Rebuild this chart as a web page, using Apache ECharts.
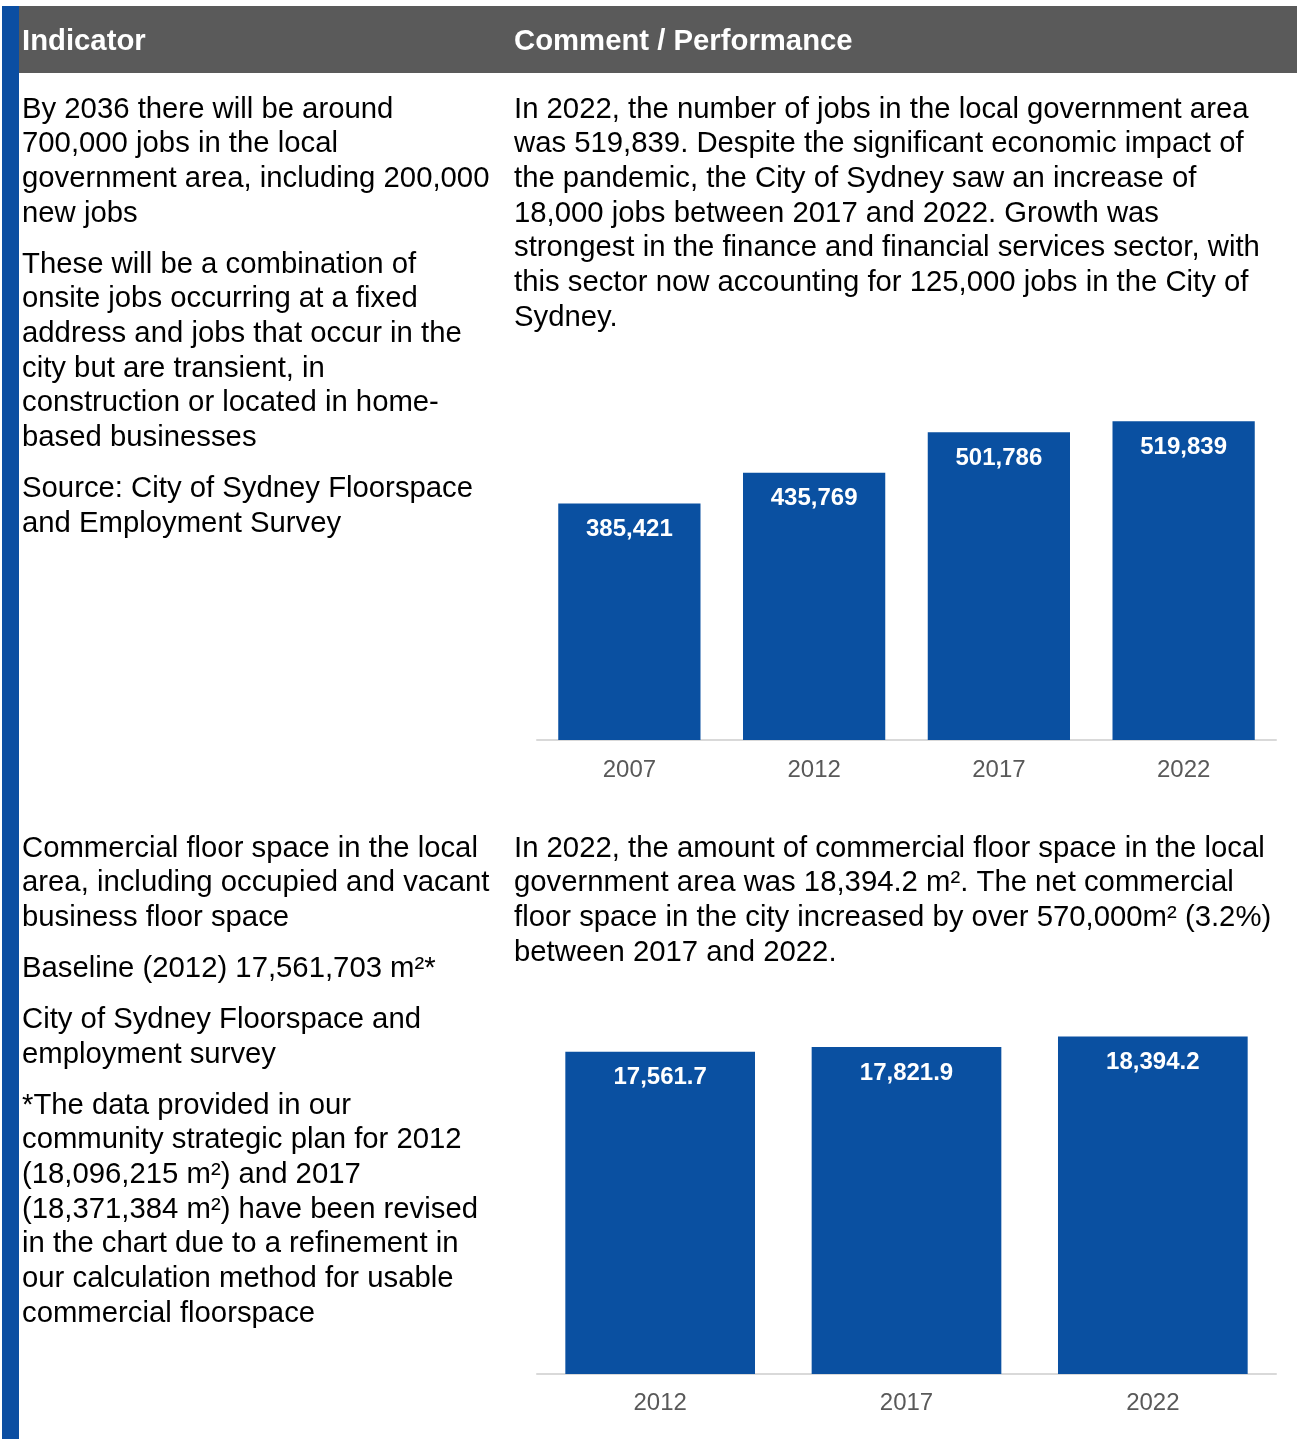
<!DOCTYPE html>
<html>
<head>
<meta charset="utf-8">
<script src="https://cdn.jsdelivr.net/npm/echarts@6/dist/echarts.min.js"></script>
<style>
html,body{margin:0;padding:0;background:#fff;}
#main{width:1297px;height:1439px;}
</style>
</head>
<body>
<div id="main"></div>
<script>
// ---- Data ----
const jobsYears = ['2007', '2012', '2017', '2022'];
const jobsValues = [385421, 435769, 501786, 519839];
const floorYears = ['2012', '2017', '2022'];
const floorValues = [17561.7, 17821.9, 18394.2];

const headerLeft = 'Indicator';
const headerRight = 'Comment / Performance';

const row1Left = [
  ['By 2036 there will be around', '700,000 jobs in the local', 'government area, including 200,000', 'new jobs'],
  ['These will be a combination of', 'onsite jobs occurring at a fixed', 'address and jobs that occur in the', 'city but are transient, in', 'construction or located in home-', 'based businesses'],
  ['Source: City of Sydney Floorspace', 'and Employment Survey']
];
const row1Right = [
  ['In 2022, the number of jobs in the local government area', 'was 519,839. Despite the significant economic impact of', 'the pandemic, the City of Sydney saw an increase of', '18,000 jobs between 2017 and 2022. Growth was', 'strongest in the finance and financial services sector, with', 'this sector now accounting for 125,000 jobs in the City of', 'Sydney.']
];
const row2Left = [
  ['Commercial floor space in the local', 'area, including occupied and vacant', 'business floor space'],
  ['Baseline (2012) 17,561,703 m²*'],
  ['City of Sydney Floorspace and', 'employment survey'],
  ['*The data provided in our', 'community strategic plan for 2012', '(18,096,215 m²) and 2017', '(18,371,384 m²) have been revised', 'in the chart due to a refinement in', 'our calculation method for usable', 'commercial floorspace']
];
const row2Right = [
  ['In 2022, the amount of commercial floor space in the local', 'government area was 18,394.2 m². The net commercial', 'floor space in the city increased by over 570,000m² (3.2%)', 'between 2017 and 2022.']
];

// ---- Layout helpers ----
const FONT = '"Liberation Sans", Arial, Helvetica, sans-serif';
const FS = 29.3;
const LH = 34.67;
const PGAP = 16.3;

function paragraphs(paras, x, firstCenterY) {
  const els = [];
  let y = firstCenterY - LH / 2;
  paras.forEach(lines => {
    els.push({
      type: 'text',
      silent: true,
      style: {
        text: lines.join('\n'),
        x: x, y: y,
        fill: '#000',
        fontSize: FS,
        fontFamily: FONT,
        lineHeight: LH,
        align: 'left',
        verticalAlign: 'top'
      }
    });
    y += lines.length * LH + PGAP;
  });
  return els;
}

const graphics = [
  { type: 'rect', silent: true, shape: { x: 2, y: 6, width: 17, height: 1433 }, style: { fill: '#0B4EA2' } },
  { type: 'rect', silent: true, shape: { x: 19, y: 6, width: 1278, height: 67 }, style: { fill: '#5A5A5A' } },
  { type: 'text', silent: true, style: { text: headerLeft, x: 22, y: 42, fill: '#fff', fontSize: FS, fontWeight: 'bold', fontFamily: FONT, align: 'left', verticalAlign: 'middle' } },
  { type: 'text', silent: true, style: { text: headerRight, x: 514, y: 42, fill: '#fff', fontSize: FS, fontWeight: 'bold', fontFamily: FONT, align: 'left', verticalAlign: 'middle' } }
].concat(
  paragraphs(row1Left, 22, 109.5),
  paragraphs(row1Right, 514, 109.5),
  paragraphs(row2Left, 22, 848.5),
  paragraphs(row2Right, 514, 848.5)
);

const chart = echarts.init(document.getElementById('main'), null, { renderer: 'canvas' });

const axisCommon = {
  type: 'category',
  axisTick: { show: false },
  axisLine: { show: true, lineStyle: { color: '#D9D9D9', width: 2 } },
  axisLabel: { color: '#595959', fontSize: 24, fontFamily: FONT }
};
const labelCommon = {
  show: true,
  position: 'insideTop',
  distance: 14,
  color: '#fff',
  fontWeight: 'bold',
  fontSize: 24,
  fontFamily: FONT
};

chart.setOption({
  animation: false,
  backgroundColor: '#fff',
  grid: [
    { left: 537, width: 739, top: 372, height: 368 },
    { left: 537, width: 739, top: 1007, height: 367 }
  ],
  xAxis: [
    Object.assign({}, axisCommon, { gridIndex: 0, data: jobsYears, axisLabel: Object.assign({}, axisCommon.axisLabel, { margin: 18 }) }),
    Object.assign({}, axisCommon, { gridIndex: 1, data: floorYears, axisLabel: Object.assign({}, axisCommon.axisLabel, { margin: 17 }) })
  ],
  yAxis: [
    { type: 'value', gridIndex: 0, min: 0, max: 600000, show: false, splitLine: { show: false } },
    { type: 'value', gridIndex: 1, min: 0, max: 20000, show: false, splitLine: { show: false } }
  ],
  series: [
    {
      type: 'bar', xAxisIndex: 0, yAxisIndex: 0, data: jobsValues,
      barCategoryGap: '23%',
      itemStyle: { color: '#0A50A1' },
      label: Object.assign({}, labelCommon, {
        formatter: p => p.value.toLocaleString('en-US')
      })
    },
    {
      type: 'bar', xAxisIndex: 1, yAxisIndex: 1, data: floorValues,
      barCategoryGap: '23%',
      itemStyle: { color: '#0A50A1' },
      label: Object.assign({}, labelCommon, {
        formatter: p => p.value.toLocaleString('en-US', { minimumFractionDigits: 1, maximumFractionDigits: 1 })
      })
    }
  ],
  graphic: graphics
});
</script>
</body>
</html>
